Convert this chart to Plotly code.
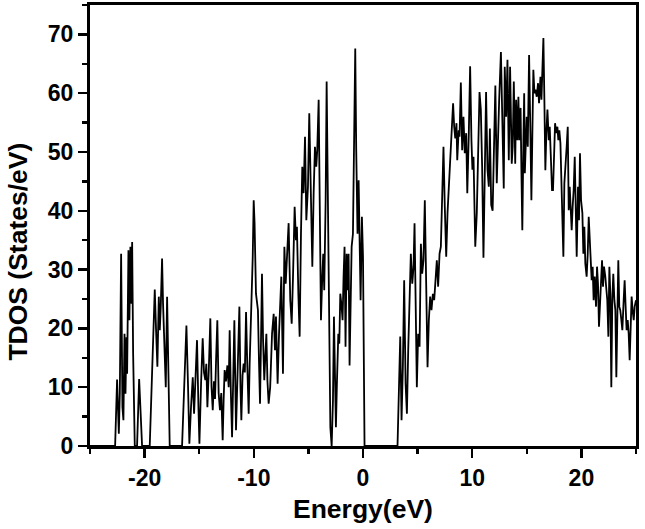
import plotly.graph_objects as go

# Energy (eV) values
energy = [
    -25.0, -22.70, -22.52, -22.42, -22.36, -22.27, -22.15, -22.03, -21.94, -21.84,
    -21.75, -21.66, -21.60, -21.48, -21.39, -21.30, -21.20, -21.14, -21.05, -20.90,
    -20.69, -20.50, -20.35, -20.23, -19.53, -19.31, -19.19, -19.07, -18.95, -18.83,
    -18.70, -18.61, -18.52, -18.40, -18.31, -18.18, -18.06, -17.94, -17.82, -17.70,
    -16.57, -16.17, -16.02, -15.90, -15.75, -15.59, -15.47, -15.32, -15.20, -15.07,
    -14.98, -14.83, -14.68, -14.56, -14.44, -14.35, -14.25, -14.12, -13.98, -13.87,
    -13.76, -13.65, -13.55, -13.45, -13.34, -13.22, -13.10, -12.98, -12.85, -12.76,
    -12.67, -12.55, -12.42, -12.30, -12.21, -12.10, -11.99, -11.88, -11.78, -11.63,
    -11.52, -11.42, -11.32, -11.22, -11.14, -11.03, -10.93, -10.82, -10.71, -10.60,
    -10.47, -10.38, -10.30, -10.23, -10.10, -10.01, -9.93, -9.80, -9.72, -9.62,
    -9.52, -9.43, -9.34, -9.25, -9.15, -9.04, -8.95, -8.85, -8.75, -8.64,
    -8.50, -8.33, -8.18, -8.06, -7.97, -7.82, -7.69, -7.48, -7.33, -7.20,
    -7.08, -6.96, -6.81, -6.66, -6.53, -6.41, -6.26, -6.14, -6.05, -5.92,
    -5.80, -5.68, -5.56, -5.44, -5.31, -5.19, -5.04, -4.92, -4.80, -4.64,
    -4.52, -4.40, -4.28, -4.19, -4.06, -3.94, -3.85, -3.73, -3.64, -3.55,
    -3.42, -3.33, -3.24, -3.12, -2.99, -2.87, -2.75, -2.66, -2.57, -2.48,
    -2.39, -2.26, -2.17, -2.08, -1.96, -1.87, -1.78, -1.69, -1.60, -1.50,
    -1.41, -1.32, -1.23, -1.14, -1.04, -0.92, -0.83, -0.71, -0.62, -0.50,
    -0.40, -0.31, -0.22, -0.10, 0.00, 0.14, 3.16, 3.41, 3.53, 3.65,
    3.77, 3.90, 4.02, 4.14, 4.26, 4.38, 4.51, 4.63, 4.72, 4.84,
    4.93, 5.05, 5.18, 5.30, 5.42, 5.54, 5.66, 5.79, 5.91, 6.03,
    6.15, 6.27, 6.40, 6.52, 6.64, 6.76, 6.88, 7.01, 7.13, 7.25,
    7.37, 7.49, 7.62, 7.74,
    7.86, 7.98, 8.11, 8.25, 8.35, 8.45, 8.56, 8.63, 8.76, 8.84,
    8.96, 9.08, 9.20, 9.32, 9.45, 9.55, 9.69, 9.81, 9.93, 10.02,
    10.12, 10.20, 10.28, 10.42, 10.54, 10.67, 10.79, 10.91, 11.03, 11.15,
    11.27, 11.40, 11.52, 11.62, 11.74, 11.87, 12.01, 12.12, 12.25, 12.37,
    12.47, 12.63, 12.76, 12.89, 12.98, 13.11, 13.23, 13.35, 13.47, 13.62,
    13.71, 13.81, 13.94, 14.02, 14.14, 14.23, 14.32, 14.43, 14.51, 14.59,
    14.69, 14.76, 14.82, 14.87, 14.99, 15.09, 15.21, 15.33, 15.42,
    15.51, 15.60, 15.70, 15.79, 15.91, 16.03, 16.12, 16.25, 16.34, 16.43,
    16.52, 16.61, 16.70, 16.79, 16.89, 17.01, 17.10, 17.19, 17.31, 17.40,
    17.50, 17.59, 17.68, 17.80, 17.89, 17.98, 18.08, 18.17, 18.26, 18.35,
    18.44, 18.56, 18.65, 18.75, 18.84, 18.93, 19.02, 19.11, 19.20, 19.29,
    19.39, 19.48, 19.57, 19.69, 19.78, 19.87, 19.97, 20.09, 20.18, 20.27,
    20.36, 20.48, 20.58, 20.67, 20.76, 20.85, 20.94, 21.03, 21.12, 21.22,
    21.34, 21.43, 21.52, 21.61, 21.70, 21.80, 21.89, 21.98, 22.07, 22.19,
    22.28, 22.37, 22.47, 22.56, 22.65, 22.74, 22.83, 22.92, 23.02, 23.11,
    23.20, 23.29, 23.38, 23.47, 23.56, 23.66, 23.75, 23.87, 23.96, 24.05,
    24.14, 24.24, 24.33, 24.42, 24.51, 24.60, 24.69, 24.79, 24.88, 25.00,
]

# Total density of states (States/eV)
tdos = [
    0.0, 0.0, 11.3, 4.4, 2.1, 8.9, 32.7, 6.6, 4.4, 19.1,
    8.9, 18.5, 12.3, 33.3, 21.4, 33.9, 24.2, 34.7, 15.7, 0.0,
    0.0, 11.4, 3.2, 0.0, 0.0, 12.9, 17.4, 26.6, 19.7, 13.5,
    25.4, 19.7, 23.7, 31.9, 24.2, 15.7, 10.0, 25.4, 12.9, 0.0,
    0.0, 20.5, 10.0, 0.4, 6.6, 11.7, 5.5, 14.0, 18.0, 6.6,
    0.4, 10.6, 18.3, 12.5, 11.2, 14.0, 6.6, 13.0, 21.7, 10.0,
    6.1, 11.0, 8.0, 15.0, 21.4, 9.0, 6.1, 9.0, 1.0, 8.0,
    12.9, 11.0, 13.7, 10.0, 19.7, 9.0, 1.5, 12.0, 21.4, 2.7,
    12.0, 15.0, 23.7, 10.0, 4.4, 12.0, 14.0, 12.5, 22.8, 14.0,
    5.5, 14.0, 18.5, 25.4, 32.0, 41.8, 38.0, 25.9, 24.0, 23.1,
    14.0, 7.2, 18.0, 29.3, 18.0, 11.2, 15.0, 19.1, 11.0, 7.2,
    10.0, 19.1, 22.5, 16.3, 22.0, 10.6, 19.1, 28.8, 12.3, 33.9,
    27.6, 31.6, 37.9, 24.8, 20.8, 28.8, 40.7, 35.0, 37.3, 25.9,
    18.6, 36.1, 47.5, 43.0, 52.6, 38.4, 44.1, 56.6, 46.4, 30.5,
    43.0, 50.9, 47.5, 50.3, 58.9, 36.1, 21.4, 28.8, 32.7, 26.5,
    41.8, 62.0, 47.5, 19.1, 3.2, 0.0, 7.8, 22.0, 8.9, 3.2,
    10.6, 19.1, 17.4, 25.9, 23.7, 21.4, 28.8, 33.9, 16.9, 32.7,
    26.5, 32.7, 13.7, 27.1, 33.9, 36.1, 52.0, 67.6, 50.3, 36.1,
    45.2, 32.7, 24.8, 39.0, 32.2, 0.0, 0.0, 18.6, 4.4, 13.4,
    28.2, 10.6, 5.5, 16.3, 23.1, 32.7, 27.6, 30.5, 37.9, 24.8,
    10.0, 19.1, 16.9, 34.4, 29.3, 31.6, 41.8, 27.1, 13.4, 21.4,
    25.4, 23.1, 25.9, 24.8, 28.8, 31.6, 27.1, 32.7, 33.9, 41.8,
    50.9, 40.7, 32.2, 39.6,
    44.1, 48.6, 53.2, 58.3, 54.3, 52.3, 54.9, 48.6, 53.7, 52.6,
    61.8, 50.3, 56.0, 49.8, 53.2, 43.0, 53.2, 64.6, 52.0, 47.0,
    49.2, 43.0, 33.9, 39.6, 52.0, 60.2, 57.2, 47.5, 32.0, 49.8,
    60.2, 47.0, 44.1, 54.0, 41.0, 40.0, 56.0, 61.3, 44.7, 54.3,
    58.9, 67.0, 53.0, 43.8, 64.5, 56.0, 65.7, 48.6, 64.5, 48.0,
    50.9, 62.0, 48.0, 58.9, 52.0, 59.4, 52.0, 57.5, 46.4, 36.7,
    52.0, 60.0, 46.4, 49.2, 56.0, 50.9, 66.5, 53.2, 41.8,
    53.2, 64.0, 60.0, 60.6, 59.4, 61.7, 58.3, 62.8, 58.9, 63.4,
    69.4, 58.9, 46.9, 53.2, 57.2, 52.0, 54.3, 49.8, 43.5, 43.5,
    51.5, 54.9, 53.2, 54.3, 52.0, 53.7, 51.5, 45.2, 41.8, 32.2,
    44.7, 47.5, 50.9, 54.3, 40.1, 44.1, 39.0, 36.7, 40.7, 43.5,
    49.2, 41.8, 32.2, 44.1, 38.4, 49.8, 41.8, 39.6, 32.7, 37.3,
    31.0, 28.8, 32.7, 39.0, 36.1, 32.2, 28.2, 30.5, 24.8, 28.8,
    23.7, 30.5, 27.6, 20.3, 23.7, 29.3, 31.6, 27.1, 30.5, 28.8,
    26.5, 24.8, 18.6, 30.5, 25.9, 10.0, 24.8, 29.3, 24.8, 23.1,
    11.7, 24.8, 31.6, 23.7, 23.1, 21.4, 19.7, 24.8, 28.2, 23.7,
    19.7, 21.4, 19.1, 14.6, 21.4, 25.4, 23.1, 21.4, 23.7, 24.8,
]

x_ticks = [-20, -10, 0, 10, 20]
y_ticks = [0, 10, 20, 30, 40, 50, 60, 70]
x_title = "Energy(eV)"
y_title = "TDOS (States/eV)"

FONT = "Liberation Sans, Arial, sans-serif"

fig = go.Figure()
fig.add_trace(go.Scatter(
    x=energy, y=tdos, mode="lines",
    line=dict(color="black", width=1.8),
    showlegend=False, hoverinfo="skip",
))

axis_common = dict(
    showline=True, linecolor="black", linewidth=3, mirror=True,
    showgrid=False, zeroline=False, automargin=False,
    ticks="outside", ticklen=9, tickwidth=2.5, tickcolor="black",
    tickfont=dict(family=FONT, size=23, color="black", weight="bold"),
)

fig.update_xaxes(
    range=[-25, 25], tickmode="array", tickvals=x_ticks,
    ticktext=[str(v) for v in x_ticks],
    minor=dict(tickmode="array", tickvals=[-25, -15, -5, 5, 15, 25],
               ticks="outside", ticklen=5, tickwidth=2.5, tickcolor="black"),
    **axis_common,
)
fig.update_yaxes(
    range=[0, 75], tickmode="array", tickvals=y_ticks,
    ticktext=[str(v) for v in y_ticks],
    minor=dict(tickmode="array", tickvals=[5, 15, 25, 35, 45, 55, 65, 75],
               ticks="outside", ticklen=5, tickwidth=2.5, tickcolor="black"),
    **axis_common,
)

fig.update_layout(
    width=645, height=529,
    margin=dict(l=89.6, r=8.7, t=5.4, b=83.3, pad=0),
    paper_bgcolor="white", plot_bgcolor="white",
    annotations=[
        dict(text=x_title, xref="paper", yref="paper", x=0.5, y=-0.1438,
             xanchor="center", yanchor="middle", showarrow=False,
             font=dict(family=FONT, size=26.5, color="black", weight="bold")),
        dict(text=y_title, xref="paper", yref="paper", x=-0.132, y=0.4406,
             xanchor="center", yanchor="middle", showarrow=False, textangle=-90,
             font=dict(family=FONT, size=26.5, color="black", weight="bold")),
    ],
)

fig.write_html(
    "out.html",
    config={"displayModeBar": False, "staticPlot": True},
    post_script="document.body.style.margin='0';document.body.style.overflow='hidden';",
)
